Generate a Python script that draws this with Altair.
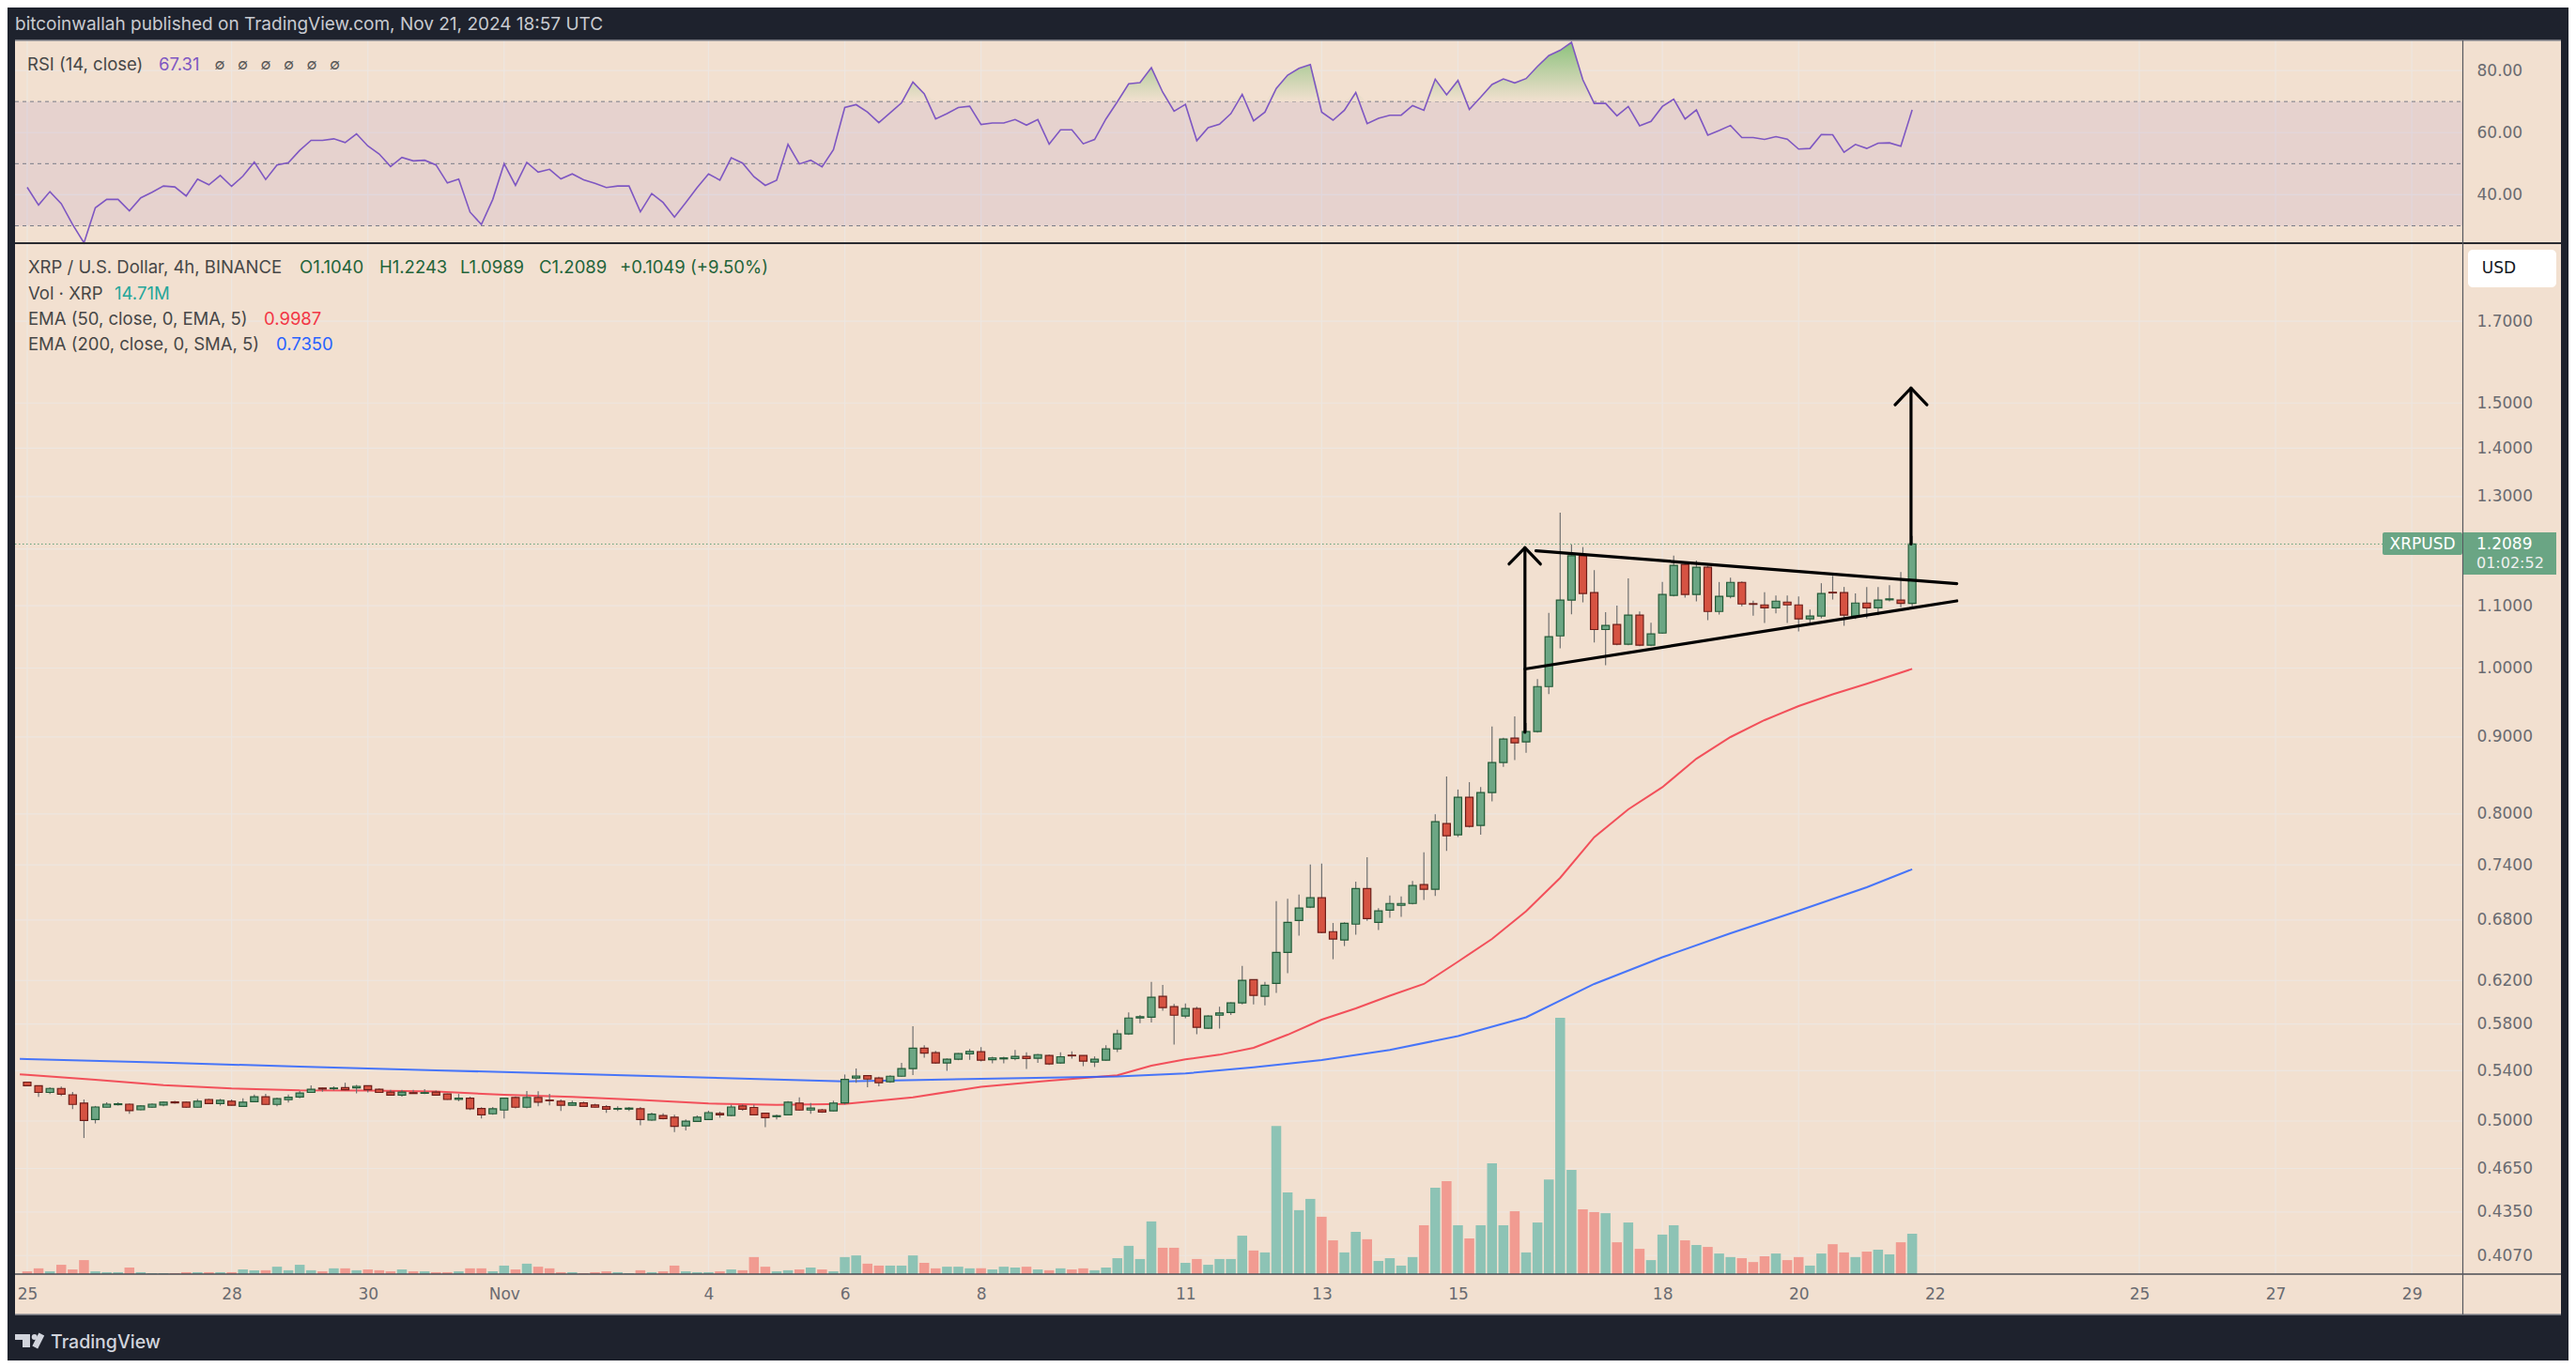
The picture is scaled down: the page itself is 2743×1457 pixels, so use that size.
import altair as alt
import pandas as pd

# ---------------------------------------------------------------- data
# XRP/USD 4h candles, Oct 25 00:00 UTC .. Nov 21 16:00 UTC
opens = [
    0.5307, 0.5278, 0.5224, 0.5256, 0.5205, 0.5139, 0.5012, 0.5107, 0.5127, 0.5131,
    0.5087, 0.5107, 0.5124, 0.5149, 0.5146, 0.5107, 0.5168, 0.5136, 0.5154, 0.5114,
    0.5151, 0.5190, 0.5129, 0.5166, 0.5188, 0.5224, 0.5259, 0.5254, 0.5263, 0.5261,
    0.5278, 0.5249, 0.5227, 0.5202, 0.5222, 0.5217, 0.5227, 0.5212, 0.5168, 0.5178,
    0.5097, 0.5056, 0.5085, 0.5183, 0.5107, 0.5183, 0.5163, 0.5154, 0.5122, 0.5141,
    0.5124, 0.5112, 0.5092, 0.5092, 0.5095, 0.5007, 0.5043, 0.5029, 0.4963, 0.4997,
    0.5012, 0.5058, 0.5043, 0.5117, 0.5105, 0.5060, 0.5034, 0.5048, 0.5139, 0.5085,
    0.5087, 0.5078, 0.5141, 0.5340, 0.5360, 0.5340, 0.5310, 0.5355, 0.5418, 0.5590,
    0.5551, 0.5465, 0.5496, 0.5541, 0.5559, 0.5493, 0.5499, 0.5501, 0.5520, 0.5504,
    0.5528, 0.5465, 0.5530, 0.5528, 0.5473, 0.5488, 0.5583, 0.5713, 0.5854, 0.5862,
    0.6051, 0.5956, 0.5871, 0.5939, 0.5763, 0.5879, 0.5904, 0.5991, 0.6208, 0.6051,
    0.6172, 0.6472, 0.6796, 0.6936, 0.7036, 0.6681, 0.6596, 0.6758, 0.7136, 0.6777,
    0.6905, 0.6955, 0.6975, 0.7179, 0.7128, 0.7882, 0.7748, 0.8206, 0.7860, 0.8265,
    0.8654, 0.8983, 0.8931, 0.9074, 0.9720, 1.0504, 1.1095, 1.1876, 1.1224, 1.0607,
    1.0689, 1.0370, 1.0843, 1.0355, 1.0550, 1.1175, 1.1718, 1.1191, 1.1667, 1.0904,
    1.1159, 1.1401, 1.1035, 1.1014, 1.0966, 1.1062, 1.1014, 1.0781, 1.0827, 1.1229,
    1.1224, 1.0827, 1.1046, 1.0966, 1.1100, 1.1095, 1.1040,
]
highs = [
    0.5310, 0.5280, 0.5266, 0.5271, 0.5227, 0.5168, 0.5117, 0.5146, 0.5146, 0.5136,
    0.5124, 0.5136, 0.5151, 0.5156, 0.5151, 0.5171, 0.5173, 0.5173, 0.5168, 0.5178,
    0.5207, 0.5212, 0.5183, 0.5207, 0.5236, 0.5281, 0.5261, 0.5273, 0.5302, 0.5285,
    0.5281, 0.5256, 0.5244, 0.5244, 0.5244, 0.5251, 0.5239, 0.5215, 0.5212, 0.5190,
    0.5107, 0.5109, 0.5183, 0.5193, 0.5236, 0.5234, 0.5212, 0.5168, 0.5158, 0.5151,
    0.5134, 0.5124, 0.5114, 0.5109, 0.5109, 0.5065, 0.5060, 0.5048, 0.5012, 0.5043,
    0.5080, 0.5073, 0.5127, 0.5129, 0.5127, 0.5065, 0.5051, 0.5154, 0.5185, 0.5141,
    0.5095, 0.5158, 0.5369, 0.5418, 0.5362, 0.5352, 0.5363, 0.5465, 0.5780, 0.5614,
    0.5567, 0.5504, 0.5548, 0.5583, 0.5598, 0.5517, 0.5517, 0.5575, 0.5554, 0.5541,
    0.5535, 0.5554, 0.5562, 0.5528, 0.5520, 0.5614, 0.5749, 0.5904, 0.5882, 0.6187,
    0.6158, 0.5982, 0.5985, 0.5956, 0.5879, 0.5956, 0.5997, 0.6339, 0.6210, 0.6187,
    0.6999, 0.7026, 0.7070, 0.7403, 0.7413, 0.6770, 0.6777, 0.7213, 0.7487, 0.6926,
    0.7060, 0.7050, 0.7220, 0.7542, 0.7995, 0.8472, 0.8304, 0.8398, 0.8335, 0.9143,
    0.8987, 0.9288, 0.9195, 0.9834, 1.0879, 1.2684, 1.2079, 1.2034, 1.1616, 1.0894,
    1.1003, 1.1472, 1.0904, 1.0719, 1.1407, 1.1876, 1.1757, 1.1786, 1.1695, 1.1407,
    1.1483, 1.1418, 1.1084, 1.1229, 1.1175, 1.1175, 1.1159, 1.0935, 1.1386, 1.1515,
    1.1321, 1.1208, 1.1321, 1.1321, 1.1353, 1.1583, 1.2243,
]
lows = [
    0.5275, 0.5188, 0.5210, 0.5195, 0.5092, 0.4872, 0.4982, 0.5105, 0.5119, 0.5056,
    0.5083, 0.5102, 0.5114, 0.5134, 0.5102, 0.5105, 0.5131, 0.5119, 0.5119, 0.5109,
    0.5146, 0.5127, 0.5114, 0.5144, 0.5178, 0.5222, 0.5229, 0.5241, 0.5241, 0.5217,
    0.5224, 0.5222, 0.5197, 0.5190, 0.5212, 0.5210, 0.5197, 0.5166, 0.5154, 0.5085,
    0.5019, 0.5048, 0.5019, 0.5097, 0.5097, 0.5114, 0.5122, 0.5078, 0.5120, 0.5109,
    0.5105, 0.5063, 0.5078, 0.5078, 0.4968, 0.5002, 0.5012, 0.4916, 0.4929, 0.4992,
    0.5007, 0.5026, 0.5038, 0.5080, 0.5043, 0.4953, 0.5012, 0.5043, 0.5080, 0.5056,
    0.5063, 0.5075, 0.5129, 0.5302, 0.5265, 0.5272, 0.5302, 0.5352, 0.5365, 0.5509,
    0.5457, 0.5399, 0.5488, 0.5491, 0.5478, 0.5462, 0.5462, 0.5488, 0.5415, 0.5465,
    0.5449, 0.5457, 0.5501, 0.5438, 0.5431, 0.5483, 0.5556, 0.5705, 0.5807, 0.5815,
    0.5919, 0.5620, 0.5851, 0.5710, 0.5758, 0.5760, 0.5882, 0.5976, 0.5976, 0.5968,
    0.6083, 0.6269, 0.6640, 0.6926, 0.6665, 0.6405, 0.6535, 0.6650, 0.6793, 0.6697,
    0.6824, 0.6834, 0.6965, 0.7013, 0.7057, 0.7560, 0.7722, 0.7834, 0.7748, 0.8155,
    0.8596, 0.8686, 0.8785, 0.9061, 0.9609, 1.0307, 1.0858, 1.1057, 1.0399, 1.0042,
    1.0355, 1.0355, 1.0341, 1.0341, 1.0540, 1.1159, 1.1138, 1.1073, 1.0760, 1.0853,
    1.1127, 1.0992, 1.0832, 1.0714, 1.0873, 1.0714, 1.0576, 1.0719, 1.0791, 1.1105,
    1.0668, 1.0781, 1.0791, 1.0843, 1.1073, 1.0976, 1.0989,
]
closes = [
    0.5278, 0.5224, 0.5256, 0.5210, 0.5129, 0.5004, 0.5109, 0.5131, 0.5134, 0.5080,
    0.5117, 0.5131, 0.5146, 0.5141, 0.5107, 0.5154, 0.5136, 0.5161, 0.5122, 0.5146,
    0.5190, 0.5129, 0.5175, 0.5185, 0.5219, 0.5249, 0.5251, 0.5259, 0.5246, 0.5273,
    0.5246, 0.5224, 0.5202, 0.5227, 0.5215, 0.5222, 0.5202, 0.5168, 0.5178, 0.5095,
    0.5048, 0.5095, 0.5178, 0.5107, 0.5183, 0.5146, 0.5158, 0.5122, 0.5141, 0.5114,
    0.5107, 0.5092, 0.5097, 0.5100, 0.5012, 0.5053, 0.5019, 0.4960, 0.4999, 0.5029,
    0.5065, 0.5048, 0.5109, 0.5092, 0.5048, 0.5026, 0.5041, 0.5146, 0.5085, 0.5100,
    0.5070, 0.5139, 0.5329, 0.5357, 0.5332, 0.5302, 0.5355, 0.5418, 0.5590, 0.5548,
    0.5465, 0.5496, 0.5543, 0.5562, 0.5488, 0.5507, 0.5507, 0.5520, 0.5501, 0.5535,
    0.5457, 0.5517, 0.5525, 0.5480, 0.5496, 0.5583, 0.5713, 0.5854, 0.5865, 0.6043,
    0.5948, 0.5879, 0.5939, 0.5771, 0.5871, 0.5899, 0.5991, 0.6202, 0.6060, 0.6155,
    0.6472, 0.6777, 0.6926, 0.7036, 0.6672, 0.6605, 0.6767, 0.7136, 0.6816, 0.6896,
    0.6975, 0.6975, 0.7169, 0.7128, 0.7905, 0.7736, 0.8206, 0.7849, 0.8265, 0.8654,
    0.8970, 0.8918, 0.9074, 0.9720, 1.0491, 1.1095, 1.1876, 1.1208, 1.0607, 1.0674,
    1.0370, 1.0843, 1.0355, 1.0535, 1.1191, 1.1701, 1.1191, 1.1667, 1.0904, 1.1159,
    1.1401, 1.1030, 1.1024, 1.0966, 1.1078, 1.1014, 1.0781, 1.0827, 1.1208, 1.1218,
    1.0843, 1.1046, 1.0966, 1.1095, 1.1116, 1.1040, 1.2089,
]
# volume, millions of XRP
volumes_m = [
    1.0, 2.1, 1.0, 3.4, 1.7, 5.1, 1.0, 0.7, 0.7, 2.4,
    0.7, 0.3, 0.3, 0.3, 0.7, 0.7, 0.7, 0.7, 0.7, 1.7,
    1.4, 1.4, 2.7, 1.4, 3.4, 1.4, 1.0, 2.1, 2.1, 1.4,
    1.7, 1.4, 1.0, 1.7, 1.0, 1.0, 0.7, 0.7, 1.0, 2.1,
    2.1, 1.0, 3.1, 1.7, 3.8, 2.7, 2.1, 0.7, 0.7, 0.3,
    0.7, 1.0, 0.7, 0.3, 1.4, 0.7, 1.0, 3.1, 1.0, 0.7,
    0.7, 1.0, 1.7, 1.4, 6.2, 2.7, 1.0, 1.4, 1.7, 2.4,
    1.7, 1.0, 6.2, 6.8, 3.8, 3.1, 3.1, 3.1, 6.8, 4.1,
    2.1, 2.7, 2.7, 2.1, 2.1, 1.7, 2.7, 2.4, 2.7, 1.7,
    1.4, 2.1, 1.7, 2.1, 1.4, 2.4, 5.8, 10.3, 5.5, 19.2,
    9.6, 9.6, 4.1, 5.5, 3.4, 5.5, 5.5, 14.0, 8.6, 7.9,
    54.0, 29.8, 23.3, 27.4, 20.9, 12.3, 7.9, 15.4, 12.7, 4.8,
    5.8, 3.1, 6.2, 17.8, 31.5, 33.9, 17.8, 13.0, 17.8, 40.4,
    17.8, 22.9, 7.9, 18.8, 34.5, 93.4, 38.0, 23.6, 22.6, 22.2,
    11.6, 18.8, 9.2, 5.1, 14.4, 17.8, 12.3, 10.6, 9.9, 7.5,
    6.2, 5.8, 4.4, 6.5, 7.5, 5.1, 6.2, 3.1, 7.5, 10.9,
    7.9, 6.2, 8.2, 8.9, 7.2, 11.6, 14.71,
]
rsi_vals = [
    42.4, 36.7, 41.0, 37.1, 30.4, 24.5, 35.8, 38.5, 38.5, 34.8,
    39.0, 40.8, 42.8, 42.5, 39.6, 45.0, 43.2, 46.2, 42.7, 46.0,
    50.5, 44.9, 49.6, 50.3, 54.3, 57.5, 57.5, 58.0, 56.8, 59.6,
    55.7, 53.1, 49.1, 52.0, 50.9, 51.1, 49.6, 43.8, 45.0, 34.4,
    30.4, 38.5, 50.0, 43.0, 50.4, 47.3, 48.2, 45.1, 46.7, 44.8,
    43.7, 42.3, 42.8, 42.8, 34.5, 40.4, 37.5, 32.8, 37.5, 42.3,
    46.7, 44.7, 51.9, 50.2, 45.8, 43.0, 44.7, 56.2, 49.9, 51.1,
    49.0, 54.5, 68.1, 69.0, 66.6, 63.2, 66.4, 69.6, 76.3, 72.5,
    64.4, 66.1, 68.1, 68.5, 62.6, 63.1, 63.1, 64.2, 62.4, 64.2,
    56.3, 60.9, 60.9, 56.4, 57.8, 64.4, 69.9, 75.7, 76.1, 80.9,
    73.0, 66.9, 69.1, 57.4, 61.6, 62.7, 66.1, 72.3, 63.8, 66.6,
    74.2, 78.5, 80.7, 81.9, 66.6, 64.0, 67.2, 72.9, 62.9, 64.6,
    65.6, 65.6, 68.7, 67.2, 77.2, 72.2, 76.8, 67.5, 71.4, 75.5,
    77.3, 76.0, 77.4, 81.3, 84.8, 86.5, 89.1, 77.0, 69.4, 69.4,
    65.4, 68.4, 62.2, 63.6, 68.4, 70.8, 64.4, 67.3, 59.2, 60.7,
    62.3, 58.4, 58.4, 57.8, 58.7, 57.9, 54.7, 54.9, 59.4, 59.3,
    53.7, 56.2, 54.9, 56.6, 56.7, 55.6, 67.31,
]
# EMA lines read at these candle positions
ema50_idx = [-0.65, 0, 6, 12, 18, 24, 30, 36, 42, 48, 54, 60, 66, 72, 78, 84, 90, 96, 99, 102,
             105, 108, 111, 114, 117, 120, 123, 126, 129, 132, 135, 138, 141, 144, 147,
             150, 153, 156, 159, 162, 166]
ema50_vals = [0.5371, 0.5366, 0.5326, 0.5283, 0.5255, 0.5240, 0.5238, 0.5231, 0.5205, 0.5188,
              0.5164, 0.5136, 0.5126, 0.5133, 0.5185, 0.5269, 0.5319, 0.5362, 0.5442, 0.5495,
              0.5534, 0.5593, 0.5706, 0.5839, 0.5941, 0.6057, 0.6167, 0.6381, 0.6607, 0.6893,
              0.7254, 0.7719, 0.8056, 0.8333, 0.8705, 0.8998, 0.9234, 0.9435, 0.9606, 0.9762,
              0.9987]
ema200_idx = [-0.65, 0, 12, 24, 36, 48, 60, 72, 84, 96, 102, 108, 114, 120, 126, 132, 138,
              144, 150, 156, 162, 166]
ema200_vals = [0.5500, 0.5498, 0.5467, 0.5435, 0.5404, 0.5374, 0.5343, 0.5312, 0.5334, 0.5353,
               0.5378, 0.5429, 0.5489, 0.5575, 0.5694, 0.5860, 0.6167, 0.6424, 0.6664, 0.6898,
               0.7150, 0.7350]

price_ticks = [1.7, 1.5, 1.4, 1.3, 1.2, 1.1, 1.0, 0.9, 0.8, 0.74, 0.68, 0.62, 0.58,
               0.54, 0.5, 0.465, 0.435, 0.407]
price_label_ticks = [v for v in price_ticks if v != 1.2]   # 1.2 sits under the price tag
rsi_ticks = [40, 60, 80]
rsi_levels = [70, 50, 30]
date_ticks = ["2024-10-25", "2024-10-28", "2024-10-30", "2024-11-01", "2024-11-04",
              "2024-11-06", "2024-11-08", "2024-11-11", "2024-11-13", "2024-11-15",
              "2024-11-18", "2024-11-20", "2024-11-22", "2024-11-25", "2024-11-27",
              "2024-11-29"]
last_price = 1.2089

# hand drawn pattern (candle position, price)
pattern_lines = {
    "pole": [(131.9, 0.9063), (131.9, 1.2022)],
    "pole_head": [(130.5, 1.1725), (131.9, 1.2022), (133.26, 1.1725)],
    "upper": [(132.87, 1.1964), (169.93, 1.1377)],
    "lower": [(131.9, 0.9986), (169.93, 1.1082)],
    "target": [(165.9, 1.2089), (165.9, 1.5348)],
    "target_head": [(164.5, 1.4962), (165.9, 1.5348), (167.3, 1.4962)],
}

N = len(opens)
assert all(len(a) == N for a in (highs, lows, closes, volumes_m, rsi_vals))
assert len(ema50_idx) == len(ema50_vals) and len(ema200_idx) == len(ema200_vals)

# ---------------------------------------------------------------- layout
T0 = pd.Timestamp("2024-10-25T00:00:00Z")


def t_ms(i):
    return int((T0 + pd.Timedelta(hours=4 * i)).value // 10**6)


def d_ms(s):
    return int(pd.Timestamp(s + "T00:00:00Z").value // 10**6)


W, H = 2606, 1098
OX, OY = 16, 259  # page position of the price pane


def px(x):
    return x - OX


def py(y):
    return y - OY


DARK = "#1e222d"
BEIGE = "#f2e0d0"
GRID = "#ede6e0"
AXIS_FONT = "DejaVu Sans"
UI_FONT = "Inter"
AXIS_COLOR = "#6a6b70"
G_FILL, G_EDGE = "#6ca684", "#235a37"
R_FILL, R_EDGE = "#d65342", "#6e1e19"
WICK = "#707070"
VOL_G, VOL_R = "#8dc3b5", "#f19b91"
LEG = 18.5

x_scale = alt.Scale(type="utc", domain=[t_ms(-0.659), t_ms(214.04)], nice=False)
price_scale = alt.Scale(type="log", domain=[0.39561, 1.91565], nice=False)
rsi_scale = alt.Scale(domain=[24.4, 89.7], range=[0, -216], nice=False, zero=False)
vol_scale = alt.Scale(domain=[0, 375.6], nice=False, zero=True)

# one shared time axis (all layers share the x scale, so give every layer the same axis)
time_axis = alt.Axis(values=[d_ms(d) for d in date_ticks],
                     labelExpr="utcdate(datum.value) == 1 ? 'Nov' : '' + utcdate(datum.value)",
                     grid=False, domain=False, ticks=False, tickSize=0, labelPadding=13,
                     labelFont=AXIS_FONT, labelFontSize=17, labelColor=AXIS_COLOR, title=None,
                     labelOverlap=False, labelFlush=False, zindex=2)

dummy = pd.DataFrame({"k": [0]})
cdf = pd.DataFrame({
    "t": [t_ms(i) for i in range(N)],
    "o": opens, "h": highs, "l": lows, "c": closes,
    "v": volumes_m, "rsi": rsi_vals,
})
UP = "datum.c >= datum.o"


def X():
    return alt.X("t:T", scale=x_scale, axis=time_axis)


def PY(field, axis=None):
    return alt.Y(f"{field}:Q", scale=price_scale, axis=axis)


def RY(field, axis=None):
    return alt.Y(f"{field}:Q", scale=rsi_scale, axis=axis)


def box(x0, y0, x1, y1, color, **kw):
    return alt.Chart(dummy).mark_rect(color=color, **kw).encode(
        x=alt.value(px(x0)), x2=alt.value(px(x1)), y=alt.value(py(y0)), y2=alt.value(py(y1)))


def seg(x0, y0, x1, y1, color, width=1.0, cap="butt"):
    return alt.Chart(dummy).mark_rule(color=color, strokeWidth=width, strokeCap=cap).encode(
        x=alt.value(px(x0)), x2=alt.value(px(x1)), y=alt.value(py(y0)), y2=alt.value(py(y1)))


def txt(s, x, y, color, size=LEG, font=UI_FONT, weight=400, align="left"):
    return alt.Chart(dummy).mark_text(
        text=s, align=align, baseline="middle", fontSize=size, font=font,
        fontWeight=weight, color=color).encode(x=alt.value(px(x)), y=alt.value(py(y)))


layers = []

# pane backgrounds
layers.append(box(16, 43, 2727, 1400, BEIGE))

# grid
vgrid = alt.Chart(pd.DataFrame({"t": [d_ms(d) for d in date_ticks]})).mark_rule(
    color=GRID, strokeWidth=1.2).encode(x=X(), y=alt.value(py(43)), y2=alt.value(H))
hgrid = alt.Chart(pd.DataFrame({"p": price_ticks})).mark_rule(
    color=GRID, strokeWidth=1.2).encode(y=PY("p"), x=alt.value(0), x2=alt.value(W))
rgrid = alt.Chart(pd.DataFrame({"r": rsi_ticks})).mark_rule(
    color=GRID, strokeWidth=1.2).encode(y=RY("r"), x=alt.value(0), x2=alt.value(W))
layers += [vgrid, hgrid, rgrid]

# RSI pane
band = alt.Chart(pd.DataFrame({"top": [70], "bot": [30]})).mark_rect(
    color="#7e57c2", opacity=0.1).encode(x=alt.value(0), x2=alt.value(W), y=RY("top"), y2="bot:Q")
levels = alt.Chart(pd.DataFrame({"lv": rsi_levels})).mark_rule(
    color="#787b86", strokeDash=[4, 4], strokeWidth=1).encode(
    y=RY("lv"), x=alt.value(0), x2=alt.value(W))
ob_fill = alt.Chart(cdf).transform_calculate(
    top="max(datum.rsi, 70)", base="70").mark_area(
    color=alt.Gradient(gradient="linear",
                       stops=[alt.GradientStop(color="#86c078", offset=0),
                              alt.GradientStop(color="#f2e0d0", offset=1)],
                       x1=1, x2=1, y1=0, y2=1),
    opacity=0.95).encode(x=X(), y=RY("top"), y2="base:Q")
rsi_axis = alt.Axis(orient="right", values=rsi_ticks, format=".2f", grid=False, domain=False,
                    ticks=False, tickSize=0, labelPadding=15, labelFont=AXIS_FONT,
                    labelFontSize=17, labelColor=AXIS_COLOR, title=None, labelOverlap=False,
                    zindex=2)
rsi_line = alt.Chart(cdf).mark_line(color="#7e57c2", strokeWidth=1.6).encode(
    x=X(), y=RY("rsi", rsi_axis))
layers += [band, levels, ob_fill, rsi_line]

# volume
vol = alt.Chart(cdf).mark_bar(size=10.5).encode(
    x=X(), y=alt.Y("v:Q", scale=vol_scale, axis=None),
    color=alt.condition(UP, alt.value(VOL_G), alt.value(VOL_R)))
layers.append(vol)

# EMAs
e50 = alt.Chart(pd.DataFrame({"t": [t_ms(i) for i in ema50_idx], "e": ema50_vals})).mark_line(
    color="#f23645", strokeWidth=2, opacity=0.85).encode(x=X(), y=PY("e"))
e200 = alt.Chart(pd.DataFrame({"t": [t_ms(i) for i in ema200_idx], "e": ema200_vals})).mark_line(
    color="#2962ff", strokeWidth=2, opacity=0.85).encode(x=X(), y=PY("e"))
layers += [e50, e200]

# candles
price_axis = alt.Axis(orient="right", values=price_label_ticks, format=".4f", grid=False,
                      domain=False, ticks=False, tickSize=0, labelPadding=15,
                      labelFont=AXIS_FONT, labelFontSize=17, labelColor=AXIS_COLOR,
                      title=None, labelOverlap=False, labelFlush=False, zindex=2)
wicks = alt.Chart(cdf).mark_rule(color=WICK, strokeWidth=1.2).encode(
    x=X(), y=PY("l"), y2="h:Q")
bodies = alt.Chart(cdf).mark_bar(size=8, strokeWidth=1.2).encode(
    x=X(), y=PY("o", price_axis), y2="c:Q",
    color=alt.condition(UP, alt.value(G_FILL), alt.value(R_FILL)),
    stroke=alt.condition(UP, alt.value(G_EDGE), alt.value(R_EDGE)))
layers += [wicks, bodies]

# last price dotted line
pline = alt.Chart(pd.DataFrame({"p": [last_price]})).mark_rule(
    color="#5f9f77", strokeDash=[1.5, 2.5], strokeWidth=1).encode(
    y=PY("p"), x=alt.value(0), x2=alt.value(px(2537)))
layers.append(pline)

# pattern drawing
rows = []
for name, pts in pattern_lines.items():
    for j, (ci, p) in enumerate(pts):
        rows.append({"seg": name, "ord": j, "t": t_ms(ci), "p": p})
drawing = alt.Chart(pd.DataFrame(rows)).mark_line(
    color="#000000", strokeWidth=3.2, strokeCap="round", strokeJoin="round").encode(
    x=X(), y=PY("p"), detail="seg:N", order="ord:Q")
layers.append(drawing)

# pane separators
layers += [
    seg(16, 43, 2727, 43, "#8b8d93", 1.5),
    seg(16, 259, 2727, 259, "#2a2b30", 2.2),
    seg(16, 1357, 2727, 1357, "#4a4c53", 1.5),
    seg(16, 1400, 2727, 1400, "#8b8d93", 1.5),
    seg(2622.5, 43, 2622.5, 1400, "#55575e", 1.2),
]

# price tags
layers += [
    box(2537, 567, 2622, 591, "#6aa584", cornerRadius=2),
    box(2623, 567, 2722, 612, "#6aa584"),
    txt("XRPUSD", 2579.5, 579.5, "#ffffff", 17, AXIS_FONT, align="center"),
    txt("1.2089", 2637, 579.5, "#ffffff", 17, AXIS_FONT),
    txt("01:02:52", 2637, 599.5, "#f0f0f0", 16, AXIS_FONT),
    box(2628, 266, 2722, 306, "#ffffff", cornerRadius=5),
    txt("USD", 2661, 286, "#131722", 17, AXIS_FONT, align="center"),
]

# legends
LG = "#474747"
GV = "#24643a"
layers += [
    txt("bitcoinwallah published on TradingView.com, Nov 21, 2024 18:57 UTC", 16, 26,
        "#c8cad0", 19),
    txt("RSI (14, close)", 29, 69, LG),
    txt("67.31", 169, 69, "#7e57c2"),
    txt("XRP / U.S. Dollar, 4h, BINANCE", 30, 285, LG),
    txt("O1.1040", 319, 285, GV),
    txt("H1.2243", 404, 285, GV),
    txt("L1.0989", 490, 285, GV),
    txt("C1.2089", 574, 285, GV),
    txt("+0.1049 (+9.50%)", 660, 285, GV),
    txt("Vol · XRP", 30, 313, LG),
    txt("14.71M", 122, 313, "#26a69a"),
    txt("EMA (50, close, 0, EMA, 5)", 30, 340, LG),
    txt("0.9987", 281, 340, "#f23645"),
    txt("EMA (200, close, 0, SMA, 5)", 30, 367, LG),
    txt("0.7350", 294, 367, "#2962ff"),
    txt("TradingView", 54, 1430, "#d1d4dc", 19.5, UI_FONT, 500),
]
# six empty-value markers of the RSI legend
layers += [txt("∅", 234 + 24.5 * k, 69, "#5a5a5a", 16, align="center") for k in range(6)]

# TradingView logo (T block, dot, slash)
LOGO = "#d1d4dc"
layers += [
    box(16, 1421, 32, 1427, LOGO),
    box(24, 1421, 32, 1435, LOGO),
    alt.Chart(dummy).mark_circle(color=LOGO, opacity=1, size=36).encode(
        x=alt.value(px(36.7)), y=alt.value(py(1424))),
    seg(44.3, 1421, 37.3, 1435, LOGO, 6.5),
]

chart = alt.layer(*layers).resolve_scale(y="independent").properties(
    width=W, height=H,
    padding={"left": 8, "top": 251, "right": 113, "bottom": 92},
    autosize=alt.AutoSizeParams(type="none"),
).configure(background=DARK).configure_view(stroke=None)

chart.save("out.html", embed_options={"renderer": "svg", "actions": False})
